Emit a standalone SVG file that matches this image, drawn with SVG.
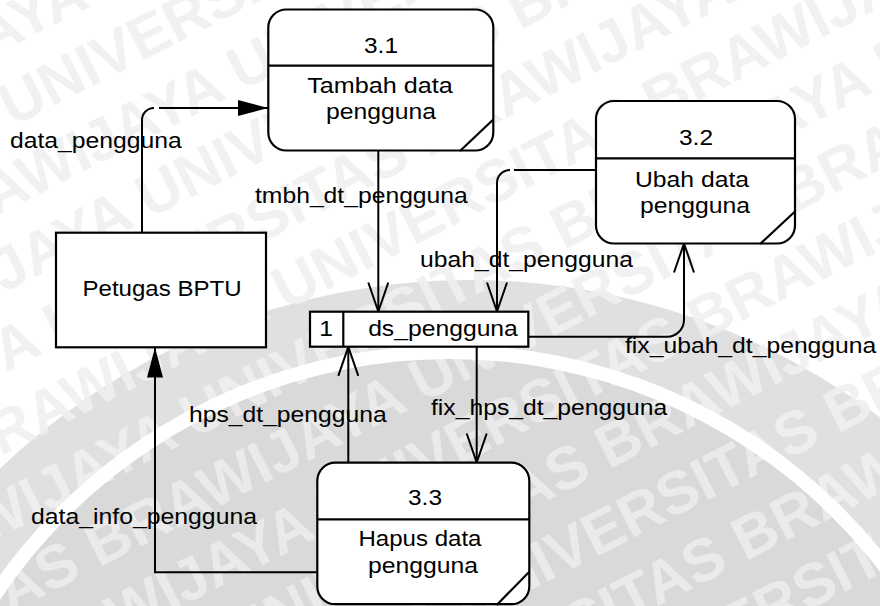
<svg xmlns="http://www.w3.org/2000/svg" xmlns:xlink="http://www.w3.org/1999/xlink" width="880" height="606" viewBox="0 0 880 606">
  <style>
    .shape { fill: #ffffff; stroke: #000000; stroke-width: 2.2; }
    .rule { fill: none; stroke: #000000; stroke-width: 2.2; }
    .flow { fill: none; stroke: #000000; stroke-width: 2; }
    .open { marker-end: url(#openArrow); }
    .solid { marker-end: url(#solidArrow); }
    text { font-family: "Liberation Sans", Arial, sans-serif; font-size: 22px; fill: #000000; }
    .mid { text-anchor: middle; }
    .wm { font-family: "Liberation Sans", Arial, sans-serif; font-size: 60px; font-weight: bold; fill: inherit; }
  </style>
  <defs>
    <marker id="solidArrow" markerUnits="userSpaceOnUse" markerWidth="32" markerHeight="18" refX="30" refY="8" orient="auto">
      <path d="M0,0 L30,8 L0,16 Z" fill="#000000"/>
    </marker>
    <marker id="openArrow" markerUnits="userSpaceOnUse" markerWidth="34" markerHeight="24" refX="30" refY="11" orient="auto">
      <path d="M1,1 L30,11 L1,21" fill="none" stroke="#000000" stroke-width="2"/>
    </marker>
    <g id="wmText" transform="rotate(-27 440 303)">
      <text class="wm" x="-500" y="-120">UNIVERSITAS BRAWIJAYA UNIVERSITAS BRAWIJAYA UNIVERSITAS BRAWIJAYA</text>
      <text class="wm" x="-640" y="-48">UNIVERSITAS BRAWIJAYA UNIVERSITAS BRAWIJAYA UNIVERSITAS BRAWIJAYA</text>
      <text class="wm" x="-420" y="24">UNIVERSITAS BRAWIJAYA UNIVERSITAS BRAWIJAYA UNIVERSITAS BRAWIJAYA</text>
      <text class="wm" x="-560" y="96">UNIVERSITAS BRAWIJAYA UNIVERSITAS BRAWIJAYA UNIVERSITAS BRAWIJAYA</text>
      <text class="wm" x="-700" y="168">UNIVERSITAS BRAWIJAYA UNIVERSITAS BRAWIJAYA UNIVERSITAS BRAWIJAYA</text>
      <text class="wm" x="-480" y="240">UNIVERSITAS BRAWIJAYA UNIVERSITAS BRAWIJAYA UNIVERSITAS BRAWIJAYA</text>
      <text class="wm" x="-620" y="312">UNIVERSITAS BRAWIJAYA UNIVERSITAS BRAWIJAYA UNIVERSITAS BRAWIJAYA</text>
      <text class="wm" x="-400" y="384">UNIVERSITAS BRAWIJAYA UNIVERSITAS BRAWIJAYA UNIVERSITAS BRAWIJAYA</text>
      <text class="wm" x="-540" y="456">UNIVERSITAS BRAWIJAYA UNIVERSITAS BRAWIJAYA UNIVERSITAS BRAWIJAYA</text>
      <text class="wm" x="-680" y="528">UNIVERSITAS BRAWIJAYA UNIVERSITAS BRAWIJAYA UNIVERSITAS BRAWIJAYA</text>
      <text class="wm" x="-460" y="600">UNIVERSITAS BRAWIJAYA UNIVERSITAS BRAWIJAYA UNIVERSITAS BRAWIJAYA</text>
      <text class="wm" x="-600" y="672">UNIVERSITAS BRAWIJAYA UNIVERSITAS BRAWIJAYA UNIVERSITAS BRAWIJAYA</text>
      <text class="wm" x="-380" y="744">UNIVERSITAS BRAWIJAYA UNIVERSITAS BRAWIJAYA UNIVERSITAS BRAWIJAYA</text>
    </g>
    <clipPath id="sealClip">
      <circle cx="470" cy="960" r="680"/>
    </clipPath>
  </defs>

  <!-- page background with faint seal and lettering -->
  <g id="background">
    <rect x="0" y="0" width="880" height="606" fill="#ffffff"/>
    <use xlink:href="#wmText" fill="#f1f1f1"/>
    <circle cx="470" cy="960" r="680" fill="#e0e0e0"/>
    <circle cx="450" cy="900" r="555" fill="#ffffff"/>
    <circle cx="450" cy="900" r="541" fill="#d9d9d9"/>
    <use xlink:href="#wmText" fill="#ffffff" fill-opacity="0.45" clip-path="url(#sealClip)"/>
  </g>

  <!-- data flows -->
  <g id="connectors">
    <path class="flow solid" d="M142,233 V120 A12,12 0 0 1 154,108 M159,108 H268"/>
    <path class="flow open" d="M378.3,151 V311.5"/>
    <path class="flow open" d="M596,170 H514 M510,170 A13,13 0 0 0 497,183 V311.5"/>
    <path class="flow open" d="M528.3,336.7 H667 A17,17 0 0 0 684,319.7 V243.5"/>
    <path class="flow open" d="M476.7,346.7 V462.5"/>
    <path class="flow open" d="M348.3,462.7 V346.9"/>
    <path class="flow solid" d="M317.3,572.3 H155 V347.5"/>
  </g>

  <!-- flow labels -->
  <g id="labels">
    <text x="10" y="148" textLength="171.7" lengthAdjust="spacingAndGlyphs">data_pengguna</text>
    <text x="255" y="203" textLength="212.8" lengthAdjust="spacingAndGlyphs">tmbh_dt_pengguna</text>
    <text x="420" y="267" textLength="212.9" lengthAdjust="spacingAndGlyphs">ubah_dt_pengguna</text>
    <text x="625" y="353" textLength="251.3" lengthAdjust="spacingAndGlyphs">fix_ubah_dt_pengguna</text>
    <text x="189" y="422" textLength="197.7" lengthAdjust="spacingAndGlyphs">hps_dt_pengguna</text>
    <text x="431" y="415" textLength="236.2" lengthAdjust="spacingAndGlyphs">fix_hps_dt_pengguna</text>
    <text x="31" y="524" textLength="226" lengthAdjust="spacingAndGlyphs">data_info_pengguna</text>
  </g>

  <!-- external entity -->
  <g id="petugas-bptu">
    <rect class="shape" x="56" y="232.7" width="210" height="114.6"/>
    <text class="mid" x="162" y="296" textLength="159" lengthAdjust="spacingAndGlyphs">Petugas BPTU</text>
  </g>

  <!-- process 3.1 -->
  <g id="proc-3-1">
    <rect class="shape" x="268.3" y="9.5" width="225" height="141" rx="18" ry="18"/>
    <line class="rule" x1="268.3" y1="65.7" x2="493.3" y2="65.7"/>
    <line class="rule" x1="460" y1="151" x2="493.3" y2="119.5"/>
    <text class="mid" x="381" y="53" textLength="34" lengthAdjust="spacingAndGlyphs">3.1</text>
    <text class="mid" x="380" y="93" textLength="145.5" lengthAdjust="spacingAndGlyphs">Tambah data</text>
    <text class="mid" x="381" y="119" textLength="110" lengthAdjust="spacingAndGlyphs">pengguna</text>
  </g>

  <!-- process 3.2 -->
  <g id="proc-3-2">
    <rect class="shape" x="596" y="101" width="199" height="142.5" rx="18" ry="18"/>
    <line class="rule" x1="596" y1="158.3" x2="795" y2="158.3"/>
    <line class="rule" x1="760" y1="244" x2="795" y2="211.5"/>
    <text class="mid" x="696" y="145" textLength="34" lengthAdjust="spacingAndGlyphs">3.2</text>
    <text class="mid" x="692" y="187" textLength="114" lengthAdjust="spacingAndGlyphs">Ubah data</text>
    <text class="mid" x="695" y="213" textLength="110" lengthAdjust="spacingAndGlyphs">pengguna</text>
  </g>

  <!-- data store D1 -->
  <g id="store-ds-pengguna">
    <rect class="shape" x="310" y="311.7" width="218.3" height="35"/>
    <line class="rule" x1="343.3" y1="311.7" x2="343.3" y2="346.7"/>
    <text class="mid" x="326" y="336" textLength="13.7" lengthAdjust="spacingAndGlyphs">1</text>
    <text class="mid" x="443" y="336" textLength="149.7" lengthAdjust="spacingAndGlyphs">ds_pengguna</text>
  </g>

  <!-- process 3.3 -->
  <g id="proc-3-3">
    <rect class="shape" x="317.3" y="462.7" width="212" height="141.5" rx="18" ry="18"/>
    <line class="rule" x1="317.3" y1="519.3" x2="529.3" y2="519.3"/>
    <line class="rule" x1="496.7" y1="605" x2="529.3" y2="571.7"/>
    <text class="mid" x="425" y="505" textLength="34" lengthAdjust="spacingAndGlyphs">3.3</text>
    <text class="mid" x="420" y="546" textLength="123" lengthAdjust="spacingAndGlyphs">Hapus data</text>
    <text class="mid" x="423" y="573" textLength="110" lengthAdjust="spacingAndGlyphs">pengguna</text>
  </g>
</svg>
